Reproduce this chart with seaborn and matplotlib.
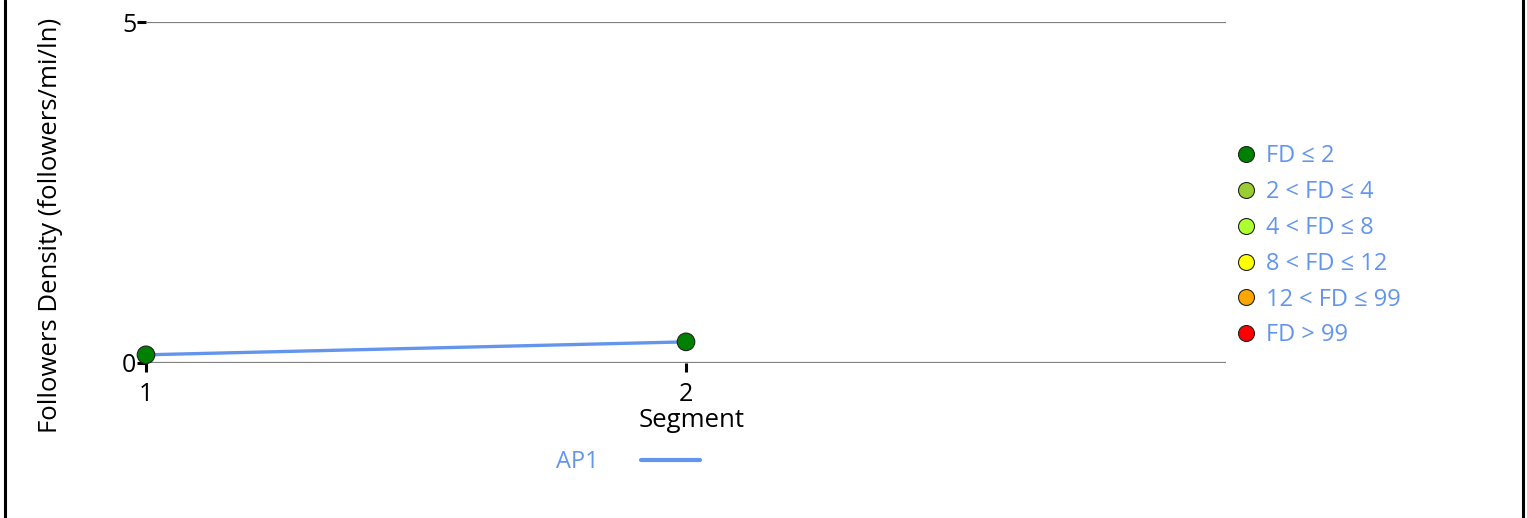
import matplotlib
matplotlib.use("Agg")
import matplotlib.pyplot as plt
from matplotlib.lines import Line2D
import seaborn as sns
import pandas as pd

# data
segments = [1, 2]
density = [0.12, 0.31]
fd_class = ["FD ≤ 2", "FD ≤ 2"]
series_name = "AP1"

class_labels = ["FD ≤ 2", "2 < FD ≤ 4", "4 < FD ≤ 8", "8 < FD ≤ 12", "12 < FD ≤ 99", "FD > 99"]
class_colors = ["#008000", "#9ACD32", "#ADFF2F", "#FFFF00", "#FFA500", "#FF0000"]

sns.set_theme(style="white")
plt.rcParams["font.family"] = ["Open Sans", "DejaVu Sans"]

df = pd.DataFrame({"Segment": segments, "Density": density, "cls": fd_class})
palette = dict(zip(class_labels, class_colors))
blue = "#6495ED"

fig = plt.figure(figsize=(15.27, 5.18), dpi=100)
ax = fig.add_axes([146 / 1527, 1 - 363 / 518, 1080 / 1527, 341 / 518])

sns.lineplot(data=df, x="Segment", y="Density", color=blue, linewidth=2.4, ax=ax,
             legend=False, clip_on=False, zorder=3)
sns.scatterplot(data=df, x="Segment", y="Density", hue="cls", palette=palette, s=160,
                edgecolor="#222222", linewidth=0.8, ax=ax, legend=False, clip_on=False, zorder=4)

ax.set_xlim(1, 3)
ax.set_ylim(0, 5)
ax.set_xticks([1, 2])
ax.set_yticks([0, 5])
for y in [0, 5]:
    ax.axhline(y, color="#808080", lw=1.6, zorder=1)
for s in ax.spines.values():
    s.set_visible(False)
ax.tick_params(axis="both", which="major", length=6.5, width=2.2, color="black",
               labelsize=18, labelcolor="black")
ax.tick_params(axis="x", bottom=True, pad=7)
ax.tick_params(axis="y", left=True, pad=0.5)
ax.set_xlabel("Segment", fontsize=18.5, color="black")
ax.xaxis.set_label_coords((692 - 146) / 1080, -(408 - 363) / 341)
ax.xaxis.label.set_verticalalignment("top")
ax.set_ylabel("Followers Density (followers/mi/ln)", fontsize=18.5, color="black")
ax.yaxis.set_label_coords((63 - 146) / 1080, (363 - 225) / 341)

# class legend on the right
handles = [Line2D([], [], marker="o", linestyle="", markersize=11.5, markerfacecolor=c,
                  markeredgecolor="#222222", markeredgewidth=0.8) for c in class_colors]
leg = fig.legend(handles, class_labels, loc="upper left", bbox_to_anchor=(1225 / 1527, 1 - 135 / 518),
                 frameon=False, fontsize=17, labelcolor=blue, handletextpad=0.35,
                 labelspacing=0.5, handlelength=1.0, borderaxespad=0)

# series legend at the bottom
leg2 = fig.legend([Line2D([], [], color=blue, lw=3)], [series_name], loc="center",
                  bbox_to_anchor=(628 / 1527, 1 - 462 / 518), frameon=False, fontsize=17,
                  labelcolor=blue, markerfirst=False, handlelength=2.5, handletextpad=1.75)

# page border lines
fig.add_artist(Line2D([5 / 1527, 5 / 1527], [0, 1], color="black", lw=2.2, transform=fig.transFigure))
fig.add_artist(Line2D([1523 / 1527, 1523 / 1527], [0, 1], color="black", lw=2.2, transform=fig.transFigure))

fig.savefig("out.png", dpi=100)
